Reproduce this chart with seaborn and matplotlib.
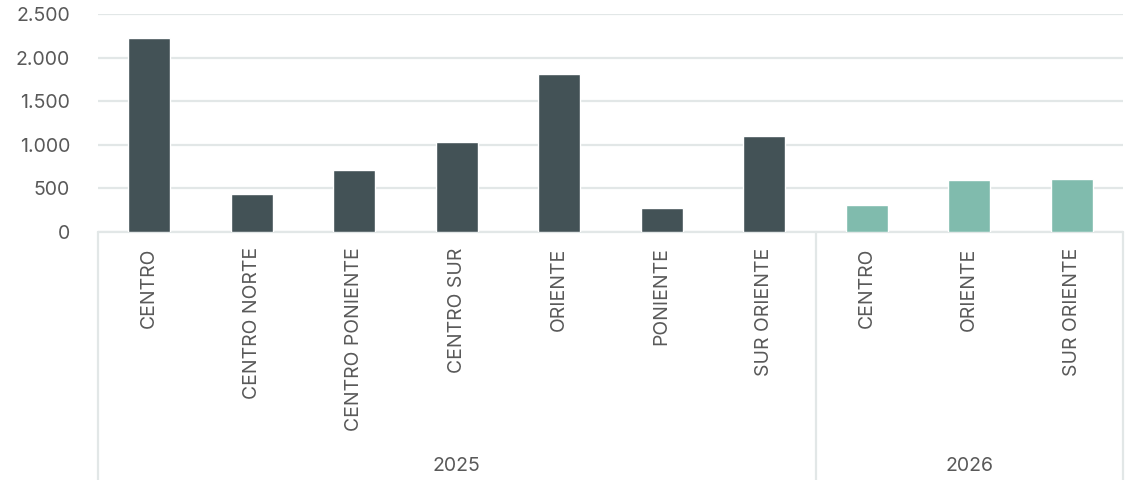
import matplotlib
matplotlib.use("Agg")
import matplotlib.pyplot as plt
import matplotlib.transforms as mtransforms
from matplotlib.ticker import FuncFormatter
import seaborn as sns
import pandas as pd

years = ["2025"] * 7 + ["2026"] * 3
regions = ["CENTRO", "CENTRO NORTE", "CENTRO PONIENTE", "CENTRO SUR", "ORIENTE",
           "PONIENTE", "SUR ORIENTE", "CENTRO", "ORIENTE", "SUR ORIENTE"]
values = [2228, 433, 710, 1027, 1814, 276, 1098, 311, 594, 605]
year_groups = ["2025", "2026"]
palette = {"2025": "#435256", "2026": "#80BBAD"}

df = pd.DataFrame({"year": years, "region": regions, "value": values})
df["key"] = df["year"] + "|" + df["region"]

sns.set_theme(style="white")
plt.rcParams["font.family"] = ["Inter", "DejaVu Sans"]
text_color = "#595959"
grid_color = "#E2E7E7"

fig = plt.figure(figsize=(11.35, 4.8), dpi=100)
ax = fig.add_axes([98 / 1135, 1 - 232 / 480, (1123 - 98) / 1135, (232 - 14) / 480])

sns.barplot(data=df, x="key", y="value", hue="year", palette=palette,
            order=list(df["key"]), dodge=False, width=0.41, legend=False,
            saturation=1, ax=ax, zorder=3)

ax.set_xlim(-0.5, len(df) - 0.5)
ax.set_ylim(0, 2500)
ax.set_yticks([0, 500, 1000, 1500, 2000, 2500])
ax.yaxis.set_major_formatter(FuncFormatter(lambda v, p: f"{int(v):,}".replace(",", ".")))
ax.grid(axis="y", color=grid_color, linewidth=1.6, zorder=0)
ax.grid(axis="x", visible=False)
for s in ax.spines.values():
    s.set_visible(False)
ax.set_xlabel("")
ax.set_ylabel("")
ax.tick_params(axis="y", length=0, pad=20, labelsize=14, labelcolor=text_color)
ax.tick_params(axis="x", length=0, pad=11, labelsize=14, labelcolor=text_color)
ax.set_xticks(range(len(df)))
ax.set_xticklabels(df["region"], rotation=90, va="top", ha="center")

trans = mtransforms.blended_transform_factory(ax.transData, ax.transAxes)
bottom = -(480 - 232) / (232 - 14)
bounds = [-0.5]
count = 0
for g in year_groups:
    n = (df["year"] == g).sum()
    start = count
    count += n
    bounds.append(count - 0.5)
    center = (start + count - 1) / 2
    ax.text(center, -(466 - 232) / (232 - 14), g, transform=trans, ha="center",
            va="center", fontsize=14, color=text_color)
for b in bounds:
    ax.plot([b, b], [0, bottom], transform=trans, color=grid_color, lw=1.6,
            clip_on=False, zorder=1)
ax.plot([-0.5, len(df) - 0.5], [0, 0], transform=trans, color=grid_color, lw=1.6,
        clip_on=False, zorder=1)

fig.savefig("out.png", dpi=100, facecolor="white")
